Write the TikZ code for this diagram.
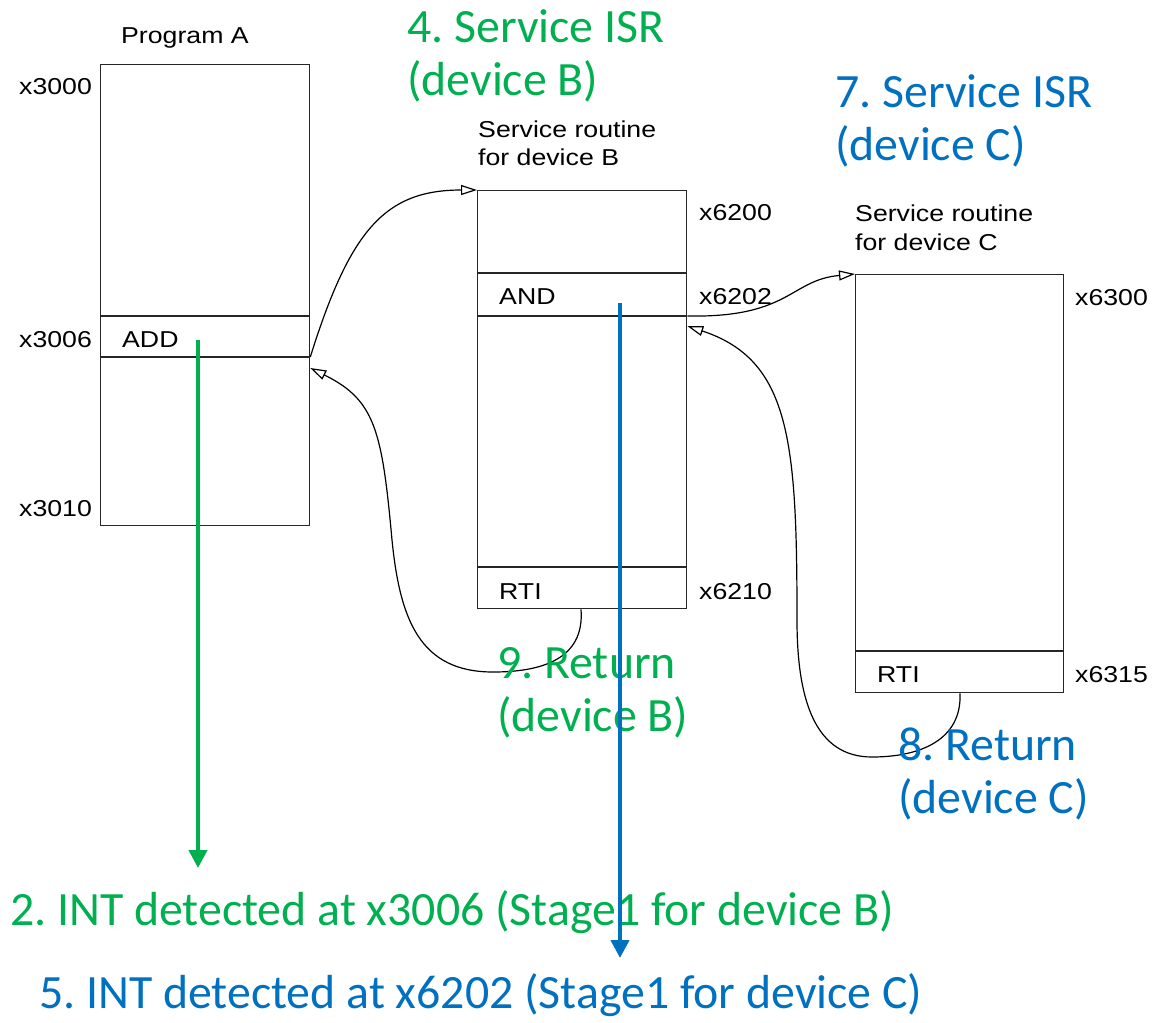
\documentclass[tikz,border=0pt]{standalone}
\usepackage{fontspec}
\setmainfont{Liberation Sans}
\newfontfamily\lblfont[FakeStretch=1.16]{Liberation Sans}
\newfontfamily\calib{Carlito}
\usetikzlibrary{arrows.meta}
\definecolor{stepgreen}{HTML}{00B050}
\definecolor{stepblue}{HTML}{0070C0}
\frenchspacing

\begin{document}
\begin{tikzpicture}[x=1pt,y=-1pt,
  membox/.style={draw=black!85, line width=1.3pt, inner sep=0pt, anchor=north west},
  rowline/.style={draw=black!85, line width=1.3pt},
  lbl/.style={font=\lblfont\fontsize{23}{27}\selectfont, inner sep=0pt, anchor=base west},
  big/.style={font=\calib\fontsize{47.8}{53}\selectfont, inner sep=0pt, anchor=base west},
  flow/.style={line width=1.2pt, -{Triangle[open,length=16pt,width=10pt]}},
  intarrow/.style={line width=4pt, -{Triangle[length=18pt,width=18pt]}}
]
\useasboundingbox[fill=white] (0,0) rectangle (1165,1023);

% memory blocks
\node[membox, minimum width=209pt, minimum height=461pt] (progA) at (100,64) {};
\node[membox, minimum width=209pt, minimum height=418pt] (progB) at (477,190) {};
\node[membox, minimum width=208pt, minimum height=418pt] (progC) at (855,274) {};

% instruction rows
\draw[rowline] (progA.west |- 0,316) -- (progA.east |- 0,316);
\draw[rowline] (progA.west |- 0,357) -- (progA.east |- 0,357);
\draw[rowline] (progB.west |- 0,273) -- (progB.east |- 0,273);
\draw[rowline] (progB.west |- 0,316) -- (progB.east |- 0,316);
\draw[rowline] (progB.west |- 0,567) -- (progB.east |- 0,567);
\draw[rowline] (progC.west |- 0,651) -- (progC.east |- 0,651);

% titles, addresses, opcodes
\node[lbl] (titleA) at (121,43) {Program A};
\node[lbl] (a3000) at (19,94) {x3000};
\node[lbl] (a3006) at (19,347) {x3006};
\node[lbl] (a3010) at (19,516) {x3010};
\node[lbl] (opADD) at (122,347) {ADD};

\node[lbl] (titleB1) at (478,137) {Service routine};
\node[lbl] (titleB2) at (478,165) {for device B};
\node[lbl] (a6200) at (699,220) {x6200};
\node[lbl] (a6202) at (699,304) {x6202};
\node[lbl] (a6210) at (699,599) {x6210};
\node[lbl] (opAND) at (499,304) {AND};
\node[lbl] (opRTIB) at (499,599) {RTI};

\node[lbl] (titleC1) at (855,221) {Service routine};
\node[lbl] (titleC2) at (855,250) {for device C};
\node[lbl] (a6300) at (1075,305) {x6300};
\node[lbl] (a6315) at (1075,682) {x6315};
\node[lbl] (opRTIC) at (877,682) {RTI};

% control transfers
\draw[flow] (progA.east |- 0,357) .. controls (350,230) and (385,190) .. (progB.north west);
\draw[flow] (progB.south -| 581,0) .. controls (585,660) and (540,672) .. (493,672)
  .. controls (420,672) and (400,620) .. (392,540)
  .. controls (382,430) and (375,400) .. (progA.east |- 0,368);
\draw[flow] (progB.east |- 0,316) .. controls (790,318) and (790,280) .. (progC.north west);
\draw[flow] (progC.south -| 960,0) .. controls (962,740) and (920,757) .. (872,757)
  .. controls (815,757) and (797,700) .. (797,620)
  .. controls (797,440) and (790,360) .. (progB.east |- 0,326);

% step annotations
\node[big, text=stepgreen] (s4a) at (407,42) {4. Service ISR};
\node[big, text=stepgreen] (s4b) at (407,95) {(device B)};
\node[big, text=stepblue] (s7a) at (835,107) {7. Service ISR};
\node[big, text=stepblue] (s7b) at (835,160) {(device C)};
\node[big, text=stepgreen] (s9a) at (497,678) {9. Return};
\node[big, text=stepgreen] (s9b) at (497,731) {(device B)};
\node[big, text=stepblue] (s8a) at (898,760) {8. Return};
\node[big, text=stepblue] (s8b) at (898,813) {(device C)};
\node[big, text=stepgreen] (s2) at (10,925) {2. INT detected at x3006 (Stage1 for device B)};
\node[big, text=stepblue] (s5) at (39,1008) {5. INT detected at x6202 (Stage1 for device C)};

% interrupt detection points
\coordinate (intA) at (198,340);
\coordinate (intAend) at (198,868);
\coordinate (intB) at (620,303);
\coordinate (intBend) at (620,958);
\draw[intarrow, stepgreen] (intA) -- (intAend);
\draw[intarrow, stepblue] (intB) -- (intBend);
\end{tikzpicture}
\end{document}
